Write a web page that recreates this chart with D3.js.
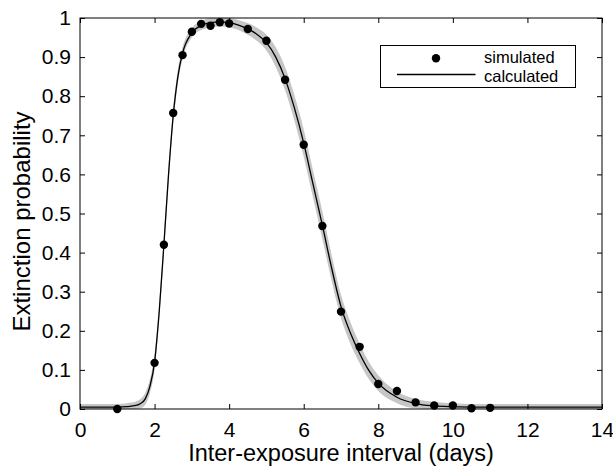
<!DOCTYPE html>
<html>
<head>
<meta charset="utf-8">
<script src="https://cdn.jsdelivr.net/npm/d3@7"></script>
<style>
  body { margin: 0; background: #fff; }
  text { font-family: "Liberation Sans", Arial, sans-serif; fill: #000; }
</style>
</head>
<body>
<div id="chart"></div>
<script>
const width = 613
const height = 466

const margin = {
    top: 18,
    bottom: 57,
    left: 80,
    right: 11
}

// simulated points
const simX = [1, 2, 2.25, 2.5, 2.75, 3, 3.25, 3.5, 3.75, 4, 4.5, 5, 5.5, 6, 6.5, 7, 7.5, 8, 8.5, 9, 9.5, 10, 10.5, 11]
const simY = [0, 0.118, 0.42, 0.757, 0.905, 0.965, 0.985, 0.98, 0.989, 0.986, 0.972, 0.942, 0.842, 0.676, 0.468, 0.249, 0.159, 0.064, 0.046, 0.017, 0.009, 0.009, 0.002, 0.003]

// calculated curve and its grey band (half width)
const calcX = [0, 0.5, 1, 1.25, 1.5, 1.625, 1.75, 1.875, 2, 2.125, 2.25, 2.375, 2.5, 2.625, 2.75, 3, 3.25, 3.5, 3.75, 4, 4.25, 4.5, 4.75, 5, 5.25, 5.5, 5.75, 6, 6.25, 6.5, 6.75, 7, 7.25, 7.5, 7.75, 8, 8.5, 9, 9.5, 10, 10.5, 11, 12, 13, 14]
const calcY = [0.005, 0.005, 0.005, 0.006, 0.009, 0.014, 0.026, 0.058, 0.12, 0.25, 0.42, 0.6, 0.75, 0.85, 0.91, 0.962, 0.981, 0.988, 0.99, 0.988, 0.982, 0.972, 0.958, 0.937, 0.9, 0.845, 0.77, 0.68, 0.575, 0.47, 0.36, 0.262, 0.195, 0.142, 0.098, 0.066, 0.03, 0.014, 0.008, 0.006, 0.005, 0.005, 0.005, 0.005, 0.005]
const calcErr = [0.008, 0.008, 0.008, 0.009, 0.01, 0.012, 0.015, 0.018, 0.02, 0.02, 0.02, 0.02, 0.02, 0.018, 0.015, 0.012, 0.012, 0.012, 0.012, 0.012, 0.013, 0.015, 0.017, 0.02, 0.025, 0.03, 0.033, 0.035, 0.035, 0.035, 0.033, 0.03, 0.028, 0.025, 0.022, 0.02, 0.015, 0.012, 0.01, 0.009, 0.008, 0.008, 0.008, 0.008, 0.008]

const xTicks = [0, 2, 4, 6, 8, 10, 12, 14]
const yTicks = [0, 0.1, 0.2, 0.3, 0.4, 0.5, 0.6, 0.7, 0.8, 0.9, 1]
const yTickLabels = ["0", "0.1", "0.2", "0.3", "0.4", "0.5", "0.6", "0.7", "0.8", "0.9", "1"]

const legendLabels = ["simulated", "calculated"]

const innerW = width - margin.left - margin.right
const innerH = height - margin.top - margin.bottom

const svg = d3.select("#chart").append("svg").attr("id", "svg").attr("width", width).attr("height", height)
const defs = svg.append("defs")
defs.append("clipPath").attr("id", "clip").append("rect").attr("width", innerW).attr("height", innerH)

const elementGroup = svg.append("g").attr("id", "elementGroup").attr("transform", `translate(${margin.left}, ${margin.top})`)
const axisGroup = svg.append("g").attr("id", "axisGroup")

let x = d3.scaleLinear().domain([0, 14]).range([0, innerW])
let y = d3.scaleLinear().domain([0, 1]).range([innerH, 0])

const curve = calcX.map((d, i) => ({ x: d, y: calcY[i], e: calcErr[i] }))
const sim = simX.map((d, i) => ({ x: d, y: simY[i] }))

const plot = elementGroup.append("g").attr("clip-path", "url(#clip)")

// grey band
plot.append("path")
    .datum(curve)
    .attr("fill", "#c6c6c6")
    .attr("d", d3.area()
        .x(d => x(d.x))
        .y0(d => y(Math.max(0, d.y - d.e)))
        .y1(d => y(d.y + d.e))
        .curve(d3.curveMonotoneX))

// calculated line
plot.append("path")
    .datum(curve)
    .attr("fill", "none")
    .attr("stroke", "#000")
    .attr("stroke-width", 1.3)
    .attr("d", d3.line().x(d => x(d.x)).y(d => y(d.y)).curve(d3.curveMonotoneX))

// axes (ticks inward on all four sides)
const fontTick = 21
const xAxisGroup = axisGroup.append("g").attr("transform", `translate(${margin.left}, ${height - margin.bottom})`)
    .call(d3.axisBottom(x).tickValues(xTicks).tickSizeInner(-5).tickSizeOuter(0).tickPadding(13).tickFormat(d => d))
const xTopGroup = axisGroup.append("g").attr("transform", `translate(${margin.left}, ${margin.top})`)
    .call(d3.axisTop(x).tickValues(xTicks).tickSizeInner(-5).tickSizeOuter(0).tickFormat(""))
const yAxisGroup = axisGroup.append("g").attr("transform", `translate(${margin.left}, ${margin.top})`)
    .call(d3.axisLeft(y).tickValues(yTicks).tickSizeInner(-5).tickSizeOuter(0).tickPadding(9).tickFormat((d, i) => yTickLabels[i]))
const yRightGroup = axisGroup.append("g").attr("transform", `translate(${margin.left + innerW}, ${margin.top})`)
    .call(d3.axisRight(y).tickValues(yTicks).tickSizeInner(-5).tickSizeOuter(0).tickFormat(""))

axisGroup.selectAll(".domain").remove()
axisGroup.selectAll(".tick line").attr("stroke", "#000")
axisGroup.selectAll(".tick text").attr("font-size", fontTick).attr("font-family", "Liberation Sans, Arial, sans-serif").attr("fill", "#000")

// frame
axisGroup.append("rect")
    .attr("x", margin.left).attr("y", margin.top)
    .attr("width", innerW).attr("height", innerH)
    .attr("fill", "none").attr("stroke", "#000").attr("stroke-width", 1)

// simulated points (drawn over frame)
elementGroup.selectAll("circle.sim").data(sim).enter().append("circle")
    .attr("class", "sim")
    .attr("cx", d => x(d.x))
    .attr("cy", d => y(d.y))
    .attr("r", 4.2)
    .attr("fill", "#000")

// axis titles
svg.append("text")
    .attr("x", margin.left + innerW / 2).attr("y", 461)
    .attr("text-anchor", "middle").attr("font-size", 23.5)
    .text("Inter-exposure interval (days)")
svg.append("text")
    .attr("transform", `translate(30, ${margin.top + innerH / 2 + 8}) rotate(-90)`)
    .attr("text-anchor", "middle").attr("font-size", 24)
    .text("Extinction probability")

// legend
const legend = svg.append("g").attr("id", "legend")
legend.append("rect")
    .attr("x", 380.5).attr("y", 45.5).attr("width", 195).attr("height", 42)
    .attr("fill", "#fff").attr("stroke", "#000").attr("stroke-width", 1)
legend.append("circle").attr("cx", 436).attr("cy", 58.3).attr("r", 4.2).attr("fill", "#000")
legend.append("line").attr("x1", 397).attr("x2", 475.5).attr("y1", 74.5).attr("y2", 74.5)
    .attr("stroke", "#000").attr("stroke-width", 1.3)
legend.selectAll("text.leg").data(legendLabels).enter().append("text")
    .attr("class", "leg")
    .attr("x", 484)
    .attr("y", (d, i) => 63 + i * 19)
    .attr("font-size", 16.5)
    .text(d => d)
</script>
</body>
</html>
